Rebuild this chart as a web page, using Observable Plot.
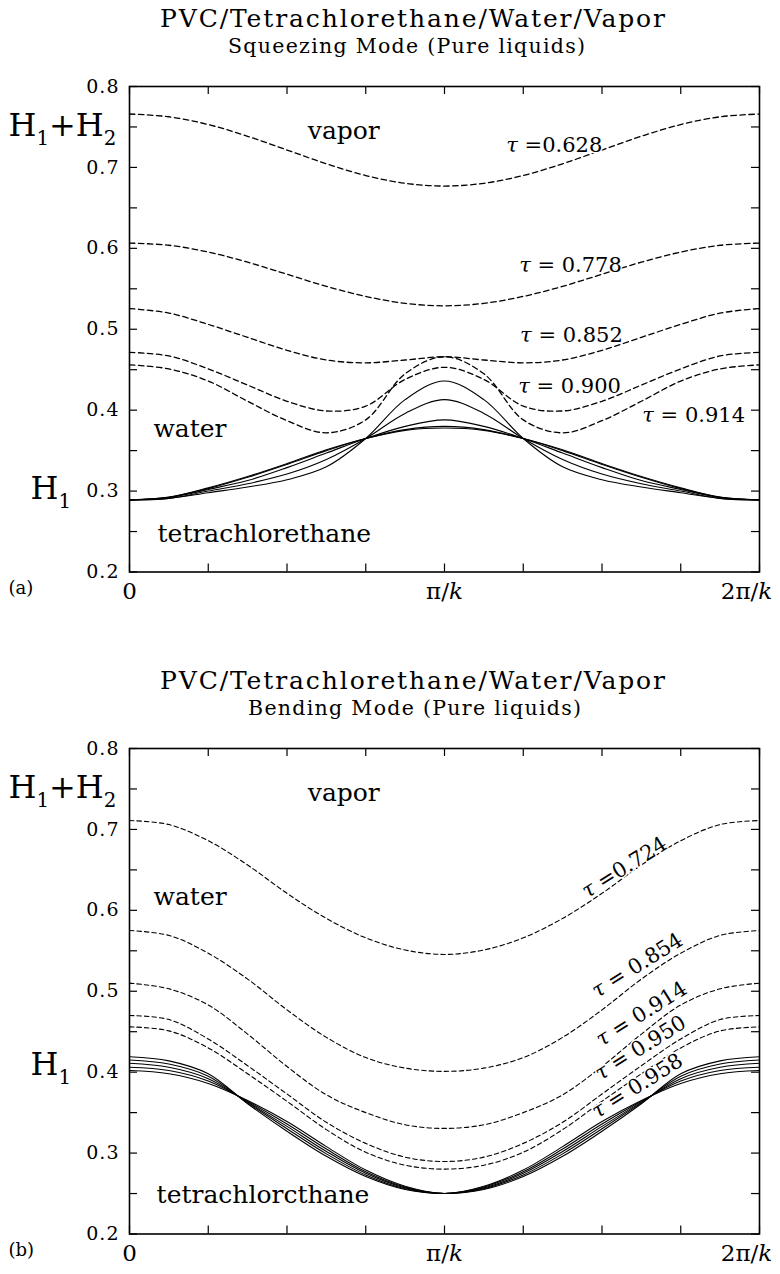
<!DOCTYPE html>
<html><head><meta charset="utf-8">
<script src="https://cdn.jsdelivr.net/npm/d3@7"></script>
<script src="https://cdn.jsdelivr.net/npm/@observablehq/plot@0.6"></script>
<style>
body{margin:0;background:#fff;}
#root{width:780px;}
svg{display:block}
g[aria-label="y-axis tick label"] text{letter-spacing:1px}
g[aria-label="region"] text{letter-spacing:1px}
g[aria-label="xlab"] text{letter-spacing:3px}
</style></head><body><div id="root"></div>
<script>
// ---------- data ----------
const xPos = [0,0.125,0.25,0.375,0.5,0.625,0.75,0.875,1,1.125,1.25,1.375,1.5,1.625,1.75,1.875,2];
const xTickPos = [0,0.25,0.5,0.75,1,1.25,1.5,1.75,2];
const yMinor = [0.2,0.25,0.3,0.35,0.4,0.45,0.5,0.55,0.6,0.65,0.7,0.75,0.8];
const yMajor = [0.2,0.3,0.4,0.5,0.6,0.7,0.8];
const xLabelPos = [0,1,2];
const xLabelText = ["0","π/*k*","2π/*k*"];

// (a) squeezing mode: H1+H2 (dashed)
const sqzTop0628 = [0.766,0.7626,0.753,0.7385,0.7215,0.7045,0.690,0.6804,0.677,0.6804,0.690,0.7045,0.7215,0.7385,0.753,0.7626,0.766];
const sqzTop0778 = [0.6065,0.6038,0.5954,0.5829,0.568,0.553,0.5406,0.532,0.529,0.532,0.5406,0.553,0.568,0.5829,0.5954,0.6038,0.6065];
const sqzTop0852 = [0.5256,0.520,0.506,0.490,0.474,0.462,0.4585,0.462,0.466,0.462,0.4585,0.462,0.474,0.490,0.506,0.520,0.5256];
const sqzTop0900 = [0.4715,0.467,0.451,0.431,0.411,0.399,0.405,0.438,0.453,0.438,0.405,0.399,0.411,0.431,0.451,0.467,0.4715];
const sqzTop0914 = [0.456,0.451,0.436,0.411,0.387,0.372,0.388,0.445,0.466,0.445,0.388,0.372,0.387,0.411,0.436,0.451,0.456];
// (a) squeezing mode: H1 (solid)
const sqzH1_0628 = [0.289,0.2925,0.304,0.318,0.334,0.351,0.365,0.375,0.378,0.375,0.365,0.351,0.334,0.318,0.304,0.2925,0.289];
const sqzH1_0778 = [0.289,0.2924,0.303,0.317,0.333,0.350,0.365,0.376,0.380,0.376,0.365,0.350,0.333,0.317,0.303,0.2924,0.289];
const sqzH1_0852 = [0.289,0.292,0.302,0.313,0.329,0.347,0.365,0.380,0.388,0.380,0.365,0.347,0.329,0.313,0.302,0.292,0.289];
const sqzH1_0900 = [0.289,0.291,0.300,0.309,0.321,0.339,0.365,0.396,0.413,0.396,0.365,0.339,0.321,0.309,0.300,0.291,0.289];
const sqzH1_0914 = [0.289,0.291,0.298,0.305,0.314,0.330,0.365,0.413,0.436,0.413,0.365,0.330,0.314,0.305,0.298,0.291,0.289];

// (b) bending mode: H1+H2 (dashed)
const bendTop0724 = [0.711,0.706,0.686,0.656,0.621,0.590,0.566,0.551,0.5455,0.551,0.566,0.590,0.621,0.656,0.686,0.706,0.711];
const bendTop0854 = [0.575,0.569,0.547,0.515,0.477,0.443,0.418,0.405,0.401,0.405,0.418,0.443,0.477,0.515,0.547,0.569,0.575];
const bendTop0914 = [0.510,0.503,0.483,0.447,0.407,0.372,0.350,0.335,0.3305,0.335,0.350,0.372,0.407,0.447,0.483,0.503,0.510];
const bendTop0950 = [0.470,0.465,0.441,0.408,0.373,0.338,0.312,0.295,0.2896,0.295,0.312,0.338,0.373,0.408,0.441,0.465,0.470];
const bendTop0958 = [0.456,0.451,0.430,0.398,0.364,0.329,0.301,0.285,0.2802,0.285,0.301,0.329,0.364,0.398,0.430,0.451,0.456];
// (b) bending mode: H1 (solid)
const bendH1_0724 = [0.419,0.414,0.398,0.361,0.327,0.296,0.271,0.255,0.250,0.255,0.271,0.296,0.327,0.361,0.398,0.414,0.419];
const bendH1_0854 = [0.415,0.410,0.395,0.362,0.330,0.299,0.273,0.256,0.250,0.256,0.273,0.299,0.330,0.362,0.395,0.410,0.415];
const bendH1_0914 = [0.411,0.406,0.392,0.363,0.333,0.302,0.275,0.257,0.250,0.257,0.275,0.302,0.333,0.363,0.392,0.406,0.411];
const bendH1_0950 = [0.406,0.402,0.389,0.364,0.336,0.305,0.277,0.258,0.250,0.258,0.277,0.305,0.336,0.364,0.389,0.402,0.406];
const bendH1_0958 = [0.402,0.398,0.386,0.365,0.339,0.308,0.279,0.259,0.250,0.259,0.279,0.308,0.339,0.365,0.386,0.398,0.402];

// labels
const sqzTauText = ["*τ* =0.628","*τ* = 0.778","*τ* = 0.852","*τ* = 0.900","*τ* = 0.914"];
const sqzTauX = [1.196,1.237,1.240,1.234,1.628];
const sqzTauY = [0.7275,0.5792,0.4928,0.429,0.394];
const bendTauText = ["*τ* =0.724","*τ* = 0.854","*τ* = 0.914","*τ* = 0.950","*τ* = 0.958"];
const bendTauX = [1.571,1.612,1.625,1.622,1.612];
const bendTauY = [0.653,0.532,0.472,0.430,0.383];

const sqzRegionText = ["vapor","water","tetrachlorethane"];
const sqzRegionX = [0.566,0.076,0.089];
const sqzRegionY = [0.7456,0.3767,0.2469];
const bendRegionText = ["vapor","water","tetrachlorcthane"];
const bendRegionX = [0.566,0.0763,0.086];
const bendRegionY = [0.7455,0.616,0.2487];

const sqzHY = [0.7512,0.3028];
const bendHY = [0.751,0.4087];

// ---------- drawing ----------
const W = 780, ML = 129, MR = 21, MT = 26, FH = 485.5, TICK = 8;
const FW = W - ML - MR;
const NS = "http://www.w3.org/2000/svg";

function richify(root){
  root.querySelectorAll("text").forEach(t => {
    const s = t.textContent;
    if (!/[*_]/.test(s)) return;
    const fsEl = t.closest("[font-size]");
    const fs = fsEl ? parseFloat(fsEl.getAttribute("font-size")) : 20;
    const segs = []; let buf = "", it = false, i = 0;
    const push = (txt, type) => { if (txt) segs.push({txt, type}); };
    while (i < s.length) {
      const c = s[i];
      if (c === "*") { push(buf, it ? "it" : "n"); buf = ""; it = !it; i++; }
      else if (c === "_") { push(buf, it ? "it" : "n"); buf = ""; push(s[i+1], "sub"); i += 2; }
      else { buf += c; i++; }
    }
    push(buf, it ? "it" : "n");
    t.textContent = "";
    let shift = 0;
    for (const sg of segs) {
      const ts = document.createElementNS(NS, "tspan");
      let target = 0;
      if (sg.type === "it") ts.setAttribute("font-style", "italic");
      if (sg.type === "sub") { ts.setAttribute("font-size", fs * 0.62); target = fs * 0.28; }
      const dy = target - shift;
      if (dy) ts.setAttribute("dy", dy);
      shift = target;
      ts.textContent = sg.txt;
      t.appendChild(ts);
    }
  });
}

function series(list){
  const rows = [];
  list.forEach(([name, vals]) => vals.forEach((v, i) => rows.push({x: xPos[i], y: v, s: name})));
  return rows;
}

function makePanel(cfg){
  const wrap = document.createElement("div");
  const head = d3.create("svg").attr("width", W).attr("height", 60).attr("font-family", "DejaVu Serif");
  head.append("text").attr("x", 160).attr("y", 27).attr("font-size", 25)
    .attr("textLength", 505).attr("lengthAdjust", "spacing").text(cfg.title);
  head.append("text").attr("x", cfg.subX).attr("y", 53).attr("font-size", 20.5)
    .attr("textLength", cfg.subLen).attr("lengthAdjust", "spacing").text(cfg.subtitle);
  wrap.appendChild(head.node());

  const dashedRows = series(cfg.dashed);
  const solidRows = series(cfg.solid);
  const idx5 = [0,1,2,3,4], idx3 = [0,1,2];

  const plot = Plot.plot({
    width: W, height: cfg.height,
    marginLeft: ML, marginRight: MR, marginTop: MT, marginBottom: cfg.height - MT - FH,
    x: {domain: [0, 2], axis: null},
    y: {domain: [0.2, 0.8], axis: null},
    style: {fontFamily: "DejaVu Serif", color: "black", background: "white"},
    marks: [
      Plot.line(solidRows, {x: "x", y: "y", z: "s", curve: "catmull-rom", stroke: "black", strokeWidth: 1.1}),
      Plot.line(dashedRows, {x: "x", y: "y", z: "s", curve: "catmull-rom", stroke: "black", strokeWidth: cfg.dashW, strokeDasharray: cfg.dash}),
      Plot.frame({stroke: "black", strokeWidth: 1.6}),
      Plot.tickY(yMinor, {y: d => d, insetRight: FW - TICK, stroke: "black", strokeWidth: 1.2}),
      Plot.tickY(yMinor, {y: d => d, insetLeft: FW - TICK, stroke: "black", strokeWidth: 1.2}),
      Plot.tickX(xTickPos, {x: d => d, insetBottom: FH - TICK, stroke: "black", strokeWidth: 1.2}),
      Plot.tickX(xTickPos, {x: d => d, insetTop: FH - TICK, stroke: "black", strokeWidth: 1.2}),
      Plot.axisY(yMajor, {anchor: "left", tickSize: 0, tickPadding: 10, tickFormat: d => d.toFixed(1), fontSize: 19, label: null}),
      Plot.text([0, 1], {x: i => xLabelPos[i], text: i => xLabelText[i], frameAnchor: "bottom", dy: 27, fontSize: 23, ariaLabel: "xlab"}),
      Plot.text([2], {x: i => xLabelPos[i], text: i => xLabelText[i], frameAnchor: "bottom", dy: 27, dx: -13, fontSize: 23, ariaLabel: "xlab"}),
      Plot.text([cfg.letter], {frameAnchor: "bottom-left", dx: -121, dy: 22, textAnchor: "start", fontSize: 18}),
      Plot.text([0], {y: i => cfg.hY[i], text: () => "H_1+H_2", frameAnchor: "left", dx: -121, textAnchor: "start", fontSize: 32}),
      Plot.text([1], {y: i => cfg.hY[i], text: () => "H_1", frameAnchor: "left", dx: -99, textAnchor: "start", fontSize: 32}),
      Plot.text(idx3, {x: i => cfg.regX[i], y: i => cfg.regY[i], text: i => cfg.regText[i], textAnchor: "start", fontSize: 25, ariaLabel: "region"}),
      Plot.text(idx5, {x: i => cfg.tauX[i], y: i => cfg.tauY[i], text: i => cfg.tauText[i],
        textAnchor: cfg.tauAnchor, rotate: cfg.tauRotate, fontSize: 21,
        fill: "black", stroke: "white", strokeWidth: 3, paintOrder: "stroke"})
    ]
  });
  richify(plot);
  wrap.appendChild(plot);
  return wrap;
}

const root = document.getElementById("root");
root.appendChild(makePanel({
  title: "PVC/Tetrachlorethane/Water/Vapor",
  subtitle: "Squeezing Mode (Pure liquids)", subX: 228, subLen: 357,
  height: 602, letter: "(a)",
  dashed: [["0.628", sqzTop0628], ["0.778", sqzTop0778], ["0.852", sqzTop0852], ["0.900", sqzTop0900], ["0.914", sqzTop0914]],
  solid: [["0.628", sqzH1_0628], ["0.778", sqzH1_0778], ["0.852", sqzH1_0852], ["0.900", sqzH1_0900], ["0.914", sqzH1_0914]],
  dash: "5.5,3.5", dashW: 1.3,
  tauText: sqzTauText, tauX: sqzTauX, tauY: sqzTauY, tauAnchor: "start", tauRotate: 0,
  regText: sqzRegionText, regX: sqzRegionX, regY: sqzRegionY,
  hY: sqzHY
}));
root.appendChild(makePanel({
  title: "PVC/Tetrachlorethane/Water/Vapor",
  subtitle: "Bending Mode (Pure liquids)", subX: 248, subLen: 333,
  height: 552, letter: "(b)",
  dashed: [["0.724", bendTop0724], ["0.854", bendTop0854], ["0.914", bendTop0914], ["0.950", bendTop0950], ["0.958", bendTop0958]],
  solid: [["0.724", bendH1_0724], ["0.854", bendH1_0854], ["0.914", bendH1_0914], ["0.950", bendH1_0950], ["0.958", bendH1_0958]],
  dash: "4.5,3", dashW: 1.1,
  tauText: bendTauText, tauX: bendTauX, tauY: bendTauY, tauAnchor: "middle", tauRotate: -32,
  regText: bendRegionText, regX: bendRegionX, regY: bendRegionY,
  hY: bendHY
}));
</script></body></html>
